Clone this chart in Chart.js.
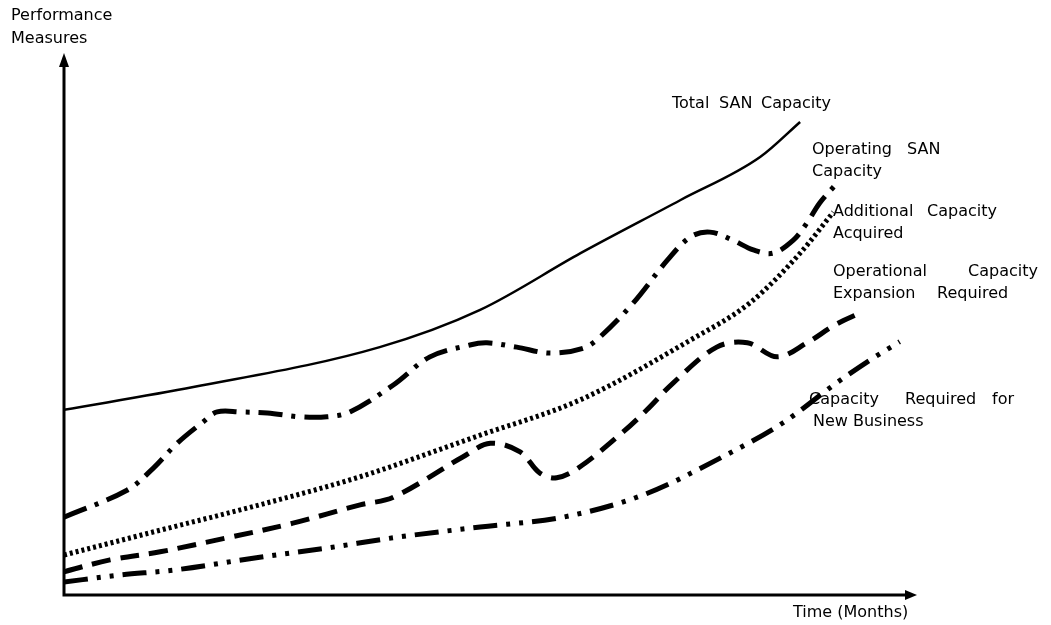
<!DOCTYPE html>
<html>
<head>
<meta charset="utf-8">
<title>SAN Capacity Planning</title>
<script src="https://cdn.jsdelivr.net/npm/chart.js@4/dist/chart.umd.min.js"></script>
<style>
  html, body { margin: 0; padding: 0; background: #ffffff; }
  #wrap { width: 1051px; height: 625px; }
</style>
</head>
<body>
<div id="wrap"><canvas id="chart" width="1051" height="625"></canvas></div>
<script>
// Time axis runs 0..100 (months, relative); performance measures 0..100 (relative).
const totalX = [0, 15.2, 37.1, 48.9, 60.7, 72.4, 81.8, 86.5];
const totalY = [34.3, 38.5, 45.9, 52.8, 63.3, 73.1, 81.1, 87.6];

const operatingX = [0, 7.4, 10.5, 13.3, 16.3, 18.0, 20.7, 23.9, 27.7, 30.9, 33.6, 38.7, 43.0, 47.7, 49.7, 53.2, 57.1, 61.0, 63.0, 66.9, 70.9, 73.6, 75.9, 78.6, 81.0, 83.3, 85.7, 87.3, 88.8, 90.5];
const operatingY = [14.4, 19.4, 23.5, 28.1, 32.0, 33.9, 33.9, 33.7, 33.0, 33.0, 33.9, 38.9, 44.1, 46.3, 46.7, 45.9, 44.8, 45.7, 47.8, 54.1, 62.0, 66.3, 67.2, 65.7, 63.9, 63.3, 65.7, 68.9, 72.6, 75.7];

const acquiredX = [0, 11.3, 23.0, 34.8, 48.9, 60.6, 73.6, 80.6, 86.5, 90.4];
const acquiredY = [7.4, 12.0, 16.7, 21.9, 29.6, 36.1, 47.2, 54.1, 63.3, 70.9];

const expansionX = [0, 5.4, 11.3, 19.2, 26.9, 34.8, 38.7, 46.9, 50.1, 53.6, 55.9, 57.9, 60.6, 65.7, 68.5, 71.6, 76.7, 80.3, 83.8, 87.3, 90.6, 93.8];
const expansionY = [4.3, 6.5, 8.0, 10.6, 13.3, 16.7, 18.1, 25.6, 28.1, 26.5, 22.6, 21.7, 23.7, 30.2, 34.3, 39.3, 45.9, 46.7, 44.1, 46.7, 50.0, 52.4];

const newBusinessX = [0, 6.6, 12.8, 23.0, 30.9, 38.7, 48.9, 58.6, 68.0, 77.4, 84.5, 90.8, 94.7, 98.2];
const newBusinessY = [2.4, 3.7, 4.6, 7.0, 8.7, 10.6, 12.6, 14.4, 18.5, 25.6, 31.9, 39.3, 43.5, 46.9];

const seriesNames = [
  'Total SAN Capacity',
  'Operating SAN Capacity',
  'Additional Capacity Acquired',
  'Operational Capacity Expansion Required',
  'Capacity Required for New Business'
];

const yAxisTitle = ['Performance', 'Measures'];
const xAxisTitle = ['Time', '(Months)'];

function pts(xs, ys) { return xs.map((x, i) => ({ x: x, y: ys[i] })); }

const FONT = '16px "DejaVu Sans", sans-serif';

// Axes with arrowheads, drawn from the chart area edges
const axesPlugin = {
  id: 'arrowAxes',
  beforeDatasetsDraw(chart) {
    const { ctx, chartArea: a } = chart;
    ctx.save();
    ctx.strokeStyle = '#000';
    ctx.fillStyle = '#000';
    ctx.lineWidth = 3;
    ctx.lineCap = 'butt';
    ctx.beginPath();
    ctx.moveTo(a.left, a.bottom + 1);
    ctx.lineTo(a.left, a.top + 10);
    ctx.moveTo(a.left - 1.5, a.bottom);
    ctx.lineTo(a.right - 8, a.bottom);
    ctx.stroke();
    // y arrow
    ctx.beginPath();
    ctx.moveTo(a.left, a.top - 2);
    ctx.lineTo(a.left - 5, a.top + 12);
    ctx.lineTo(a.left + 5, a.top + 12);
    ctx.closePath();
    ctx.fill();
    // x arrow
    ctx.beginPath();
    ctx.moveTo(a.right + 2, a.bottom);
    ctx.lineTo(a.right - 10, a.bottom - 5);
    ctx.lineTo(a.right - 10, a.bottom + 5);
    ctx.closePath();
    ctx.fill();
    ctx.restore();
  }
};

// Text annotations beside the curves and on the axes; each word has a preferred start,
// pushed right when the previous word would run into it
const labelPlugin = {
  id: 'curveLabels',
  afterDatasetsDraw(chart) {
    const { ctx } = chart;
    ctx.save();
    ctx.fillStyle = '#000';
    ctx.font = FONT;
    ctx.textBaseline = 'middle';
    ctx.textAlign = 'left';
    const space = ctx.measureText(' ').width;
    const line = (words, xs, y) => {
      let end = -Infinity;
      words.forEach((w, i) => {
        const x = Math.max(xs[i], end + space);
        ctx.fillText(w, x, y);
        end = x + ctx.measureText(w).width;
      });
    };

    line([yAxisTitle[0]], [11], 16);
    line([yAxisTitle[1]], [11], 39);

    line(['Total', 'SAN', 'Capacity'], [672, 719, 761], 104);
    line(['Operating', 'SAN'], [812, 907], 150);
    line(['Capacity'], [812], 172);
    line(['Additional', 'Capacity'], [833, 927], 212);
    line(['Acquired'], [833], 234);
    line(['Operational', 'Capacity'], [833, 968], 272);
    line(['Expansion', 'Required'], [833, 937], 294);
    line(['Capacity', 'Required', 'for'], [809, 905, 992], 400);
    line(['New', 'Business'], [813, 843], 422);

    line(xAxisTitle, [793, 832], 613);
    ctx.restore();
  }
};

const common = {
  fill: false,
  borderColor: '#000',
  pointRadius: 0,
  tension: 0.35,
  borderCapStyle: 'butt',
  borderJoinStyle: 'round'
};

new Chart(document.getElementById('chart'), {
  type: 'line',
  data: {
    datasets: [
      Object.assign({}, common, { label: seriesNames[0], data: pts(totalX, totalY), borderWidth: 2.5, cubicInterpolationMode: 'monotone' }),
      Object.assign({}, common, { label: seriesNames[1], data: pts(operatingX, operatingY), borderWidth: 5, borderDash: [24, 9, 4, 9] }),
      Object.assign({}, common, { label: seriesNames[2], data: pts(acquiredX, acquiredY), borderWidth: 5, borderDash: [3, 3], cubicInterpolationMode: 'monotone' }),
      Object.assign({}, common, { label: seriesNames[3], data: pts(expansionX, expansionY), borderWidth: 5, borderDash: [19, 10] }),
      Object.assign({}, common, { label: seriesNames[4], data: pts(newBusinessX, newBusinessY), borderWidth: 5, borderDash: [24, 9, 4, 9, 4, 9], cubicInterpolationMode: 'monotone' })
    ]
  },
  options: {
    responsive: false,
    animation: false,
    layout: { padding: { left: 64, right: 136, top: 55, bottom: 30 } },
    plugins: { legend: { display: false }, tooltip: { enabled: false } },
    scales: {
      x: { type: 'linear', min: 0, max: 100, display: false },
      y: { type: 'linear', min: 0, max: 100, display: false }
    }
  },
  plugins: [axesPlugin, labelPlugin]
});
</script>
</body>
</html>
